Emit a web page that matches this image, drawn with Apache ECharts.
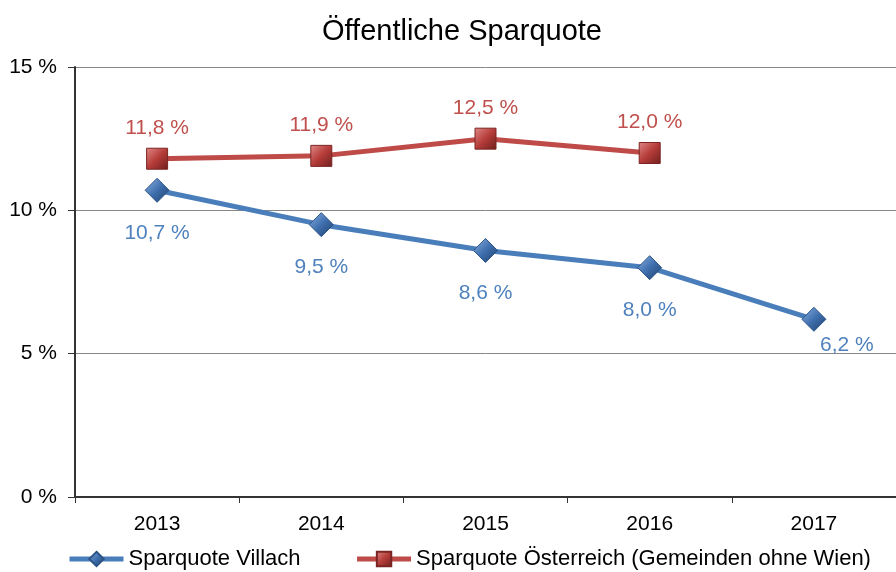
<!DOCTYPE html>
<html>
<head>
<meta charset="utf-8">
<script src="https://cdn.jsdelivr.net/npm/echarts@6/dist/echarts.min.js"></script>
<style>
  html, body { margin: 0; padding: 0; background: #fff; }
  #main { width: 896px; height: 572px; }
</style>
</head>
<body>
<div id="main"></div>
<script>
  var years = ['2013', '2014', '2015', '2016', '2017']
  var villach = [10.7, 9.5, 8.6, 8.0, 6.2]
  var oesterreich = [11.8, 11.9, 12.5, 12.0, null]
  var yTicks = [0, 5, 10, 15]

  function pct(v) {
    return String(v.toFixed(1)).replace('.', ',') + ' %'
  }

  var blueMarker = new echarts.graphic.LinearGradient(0, 0, 1, 1, [
    { offset: 0, color: '#8fb4e3' },
    { offset: 0.5, color: '#3f6fae' },
    { offset: 1, color: '#1f3f6b' }
  ])
  var redMarker = new echarts.graphic.LinearGradient(0, 0, 1, 1, [
    { offset: 0, color: '#e08a88' },
    { offset: 0.5, color: '#b53c39' },
    { offset: 1, color: '#6e1f1d' }
  ])

  var chart = echarts.init(document.getElementById('main'))
  var option = {
    animation: false,
    textStyle: { fontFamily: 'Liberation Sans, Arial, sans-serif' },
    title: {
      text: 'Öffentliche Sparquote',
      left: 317,
      top: 12,
      textStyle: { fontSize: 29, fontWeight: 'normal', color: '#000' }
    },
    grid: { left: 75, right: -4, top: 67, bottom: 75 },
    legend: {
      left: 62,
      bottom: -3,
      itemWidth: 54,
      itemHeight: 18,
      itemGap: 54,
      lineStyle: { width: 5 },
      textStyle: { fontSize: 22, color: '#000' },
      data: ['Sparquote Villach', 'Sparquote Österreich (Gemeinden ohne Wien)']
    },
    xAxis: {
      type: 'category',
      data: years,
      boundaryGap: true,
      axisLine: { lineStyle: { color: '#333', width: 2 } },
      axisTick: { show: true, length: 6, lineStyle: { color: '#333' } },
      axisLabel: { fontSize: 21, color: '#000', margin: 17 }
    },
    yAxis: {
      type: 'value',
      min: yTicks[0],
      max: yTicks[yTicks.length - 1],
      interval: 5,
      axisLine: { show: true, lineStyle: { color: '#333', width: 2 } },
      axisTick: { show: true, length: 7, lineStyle: { color: '#333' } },
      splitLine: { lineStyle: { color: '#878787', width: 1 } },
      axisLabel: {
        fontSize: 21,
        color: '#000',
        margin: 18,
        formatter: function (v) { return v + ' %' }
      }
    },
    series: [
      {
        name: 'Sparquote Villach',
        type: 'line',
        data: villach,
        symbol: 'diamond',
        symbolSize: 24,
        color: '#4a7ebb',
        lineStyle: { color: '#4a7ebb', width: 5 },
        itemStyle: { color: blueMarker, borderColor: '#2c5487', borderWidth: 1 },
        label: {
          show: true,
          position: 'bottom',
          distance: 20,
          fontSize: 21,
          color: '#4f81bd',
          formatter: function (p) { return pct(p.value) }
        },
        labelLayout: function (p) {
          if (p.dataIndex === villach.length - 1) {
            return { dx: 33, dy: -17 }
          }
        },
        z: 3
      },
      {
        name: 'Sparquote Österreich (Gemeinden ohne Wien)',
        type: 'line',
        data: oesterreich,
        symbol: 'rect',
        symbolSize: 21,
        color: '#be4b48',
        lineStyle: { color: '#be4b48', width: 5 },
        itemStyle: { color: redMarker, borderColor: '#7a2523', borderWidth: 1 },
        label: {
          show: true,
          position: 'top',
          distance: 9,
          fontSize: 21,
          color: '#c0504d',
          formatter: function (p) { return pct(p.value) }
        },
        z: 4
      }
    ]
  }
  option && chart.setOption(option)
</script>
</body>
</html>
